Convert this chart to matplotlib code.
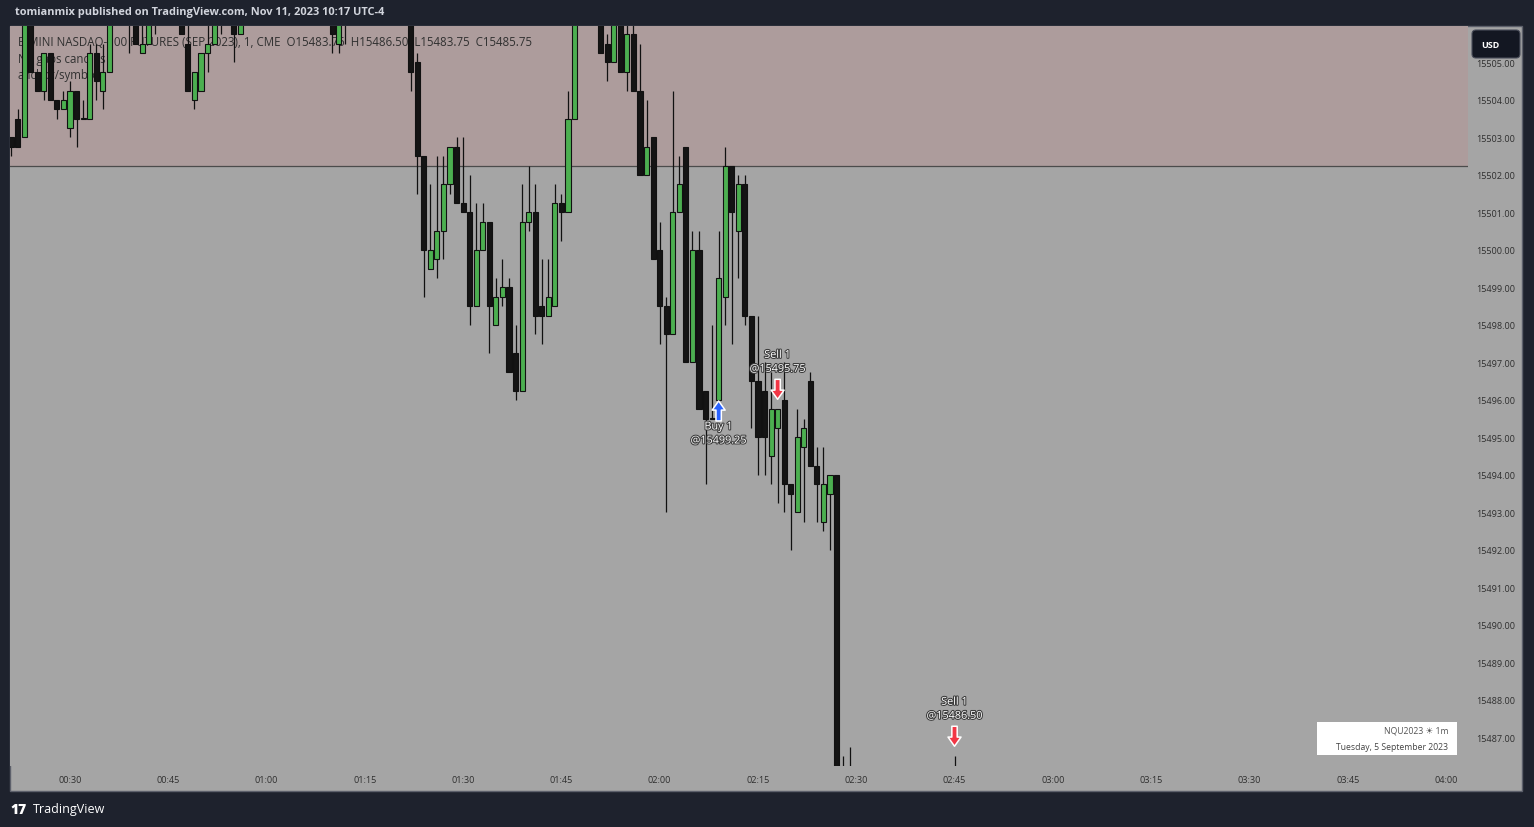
import matplotlib.pyplot as plt
import matplotlib.patheffects as pe
from matplotlib.patches import Rectangle, FancyBboxPatch
from matplotlib.transforms import IdentityTransform

plt.rcParams['font.family'] = ['Open Sans', 'DejaVu Sans']

# one-minute bars, 00:21 .. 02:45 (minutes after midnight)
minutes = list(range(21, 166))
opens = [
    15503.0, 15503.5, 15503.0, 15506.5, 15504.75, 15504.25, 15505.25, 15504.0, 15503.75, 15503.25,
    15504.25, 15503.5, 15503.5, 15505.25, 15504.25, 15504.75, 15506.5, 15507.0, 15506.75, 15506.5,
    15505.25, 15505.5, 15506.25, 15506.5, 15507.0, 15506.75, 15506.5, 15505.5, 15504.0, 15504.25,
    15505.25, 15505.5, 15506.25, 15506.5, 15506.75, 15505.75, 15506.5, 15507.25, 15507.75, 15508.25,
    15508.0, 15507.75, 15507.25, 15507.5, 15508.0, 15507.5, 15507.0, 15507.25, 15506.75, 15507.0,
    15505.5, 15506.5, 15506.75, 15507.25, 15507.0, 15506.75, 15507.0, 15507.5, 15507.25, 15506.75,
    15507.0, 15506.75, 15505.0, 15502.5, 15499.5, 15499.75, 15500.5, 15501.75, 15502.75, 15501.25,
    15501.0, 15498.5, 15500.0, 15500.75, 15498.0, 15498.75, 15499.0, 15497.25, 15496.25, 15500.75,
    15501.0, 15498.5, 15498.25, 15498.5, 15501.25, 15501.0, 15503.5, 15506.5, 15507.25, 15507.0,
    15506.5, 15505.5, 15505.0, 15506.5, 15504.75, 15505.75, 15504.25, 15502.0, 15503.0, 15500.0,
    15498.5, 15497.75, 15501.0, 15502.75, 15497.0, 15500.0, 15496.25, 15495.5, 15496.0, 15498.75,
    15502.25, 15500.5, 15501.75, 15498.25, 15496.5, 15496.25, 15494.5, 15495.25, 15496.0, 15493.75,
    15493.0, 15494.75, 15496.5, 15494.25, 15492.75, 15493.5, 15494.0, 15485.75, 15485.5, 15486.0,
    15485.25, 15485.0, 15484.5, 15484.75, 15484.5, 15484.0, 15484.25, 15484.75, 15484.5, 15484.0,
    15483.75, 15484.0, 15483.75, 15483.5, 15483.75,
]
highs = [
    15503.0, 15503.75, 15506.75, 15506.75, 15504.75, 15505.25, 15505.25, 15504.0, 15504.25, 15504.5,
    15504.25, 15504.0, 15505.5, 15505.5, 15505.5, 15506.5, 15507.25, 15507.5, 15507.0, 15506.75,
    15506.25, 15506.5, 15506.75, 15507.25, 15507.25, 15507.0, 15506.75, 15506.25, 15504.75, 15505.25,
    15506.25, 15506.5, 15506.75, 15507.0, 15507.0, 15506.75, 15507.5, 15508.0, 15508.5, 15508.75,
    15508.5, 15508.0, 15507.75, 15508.25, 15508.25, 15507.75, 15507.5, 15507.5, 15507.25, 15507.25,
    15506.75, 15507.0, 15507.5, 15507.75, 15507.5, 15507.25, 15507.75, 15508.0, 15507.5, 15507.25,
    15507.25, 15507.0, 15505.25, 15502.5, 15501.75, 15502.5, 15502.5, 15502.75, 15503.0, 15503.0,
    15502.0, 15501.25, 15501.25, 15500.75, 15499.25, 15499.75, 15499.25, 15498.0, 15501.75, 15502.25,
    15501.75, 15499.75, 15499.75, 15501.75, 15501.5, 15504.25, 15507.0, 15507.5, 15507.75, 15507.25,
    15506.75, 15505.75, 15506.5, 15506.75, 15506.0, 15506.0, 15505.5, 15504.0, 15503.0, 15500.75,
    15498.75, 15504.25, 15502.5, 15502.75, 15500.5, 15500.5, 15496.25, 15498.0, 15500.5, 15502.75,
    15502.25, 15502.0, 15502.0, 15498.25, 15498.25, 15497.0, 15496.75, 15495.75, 15497.0, 15493.75,
    15495.75, 15495.5, 15496.75, 15494.75, 15494.75, 15494.0, 15494.0, 15486.5, 15486.75, 15486.0,
    15485.75, 15485.5, 15485.0, 15485.25, 15484.75, 15484.5, 15485.0, 15485.25, 15484.75, 15484.5,
    15484.25, 15484.5, 15484.0, 15484.0, 15486.5,
]
lows = [
    15502.5, 15502.75, 15503.0, 15504.75, 15504.25, 15504.0, 15504.0, 15503.5, 15503.75, 15503.0,
    15502.75, 15503.5, 15503.5, 15504.0, 15503.75, 15504.75, 15506.25, 15506.5, 15505.25, 15505.5,
    15505.25, 15505.5, 15505.75, 15506.25, 15506.5, 15506.25, 15505.75, 15504.25, 15503.75, 15504.25,
    15504.75, 15505.5, 15505.75, 15506.25, 15505.0, 15505.75, 15506.25, 15507.0, 15507.5, 15507.75,
    15507.5, 15507.0, 15506.75, 15507.25, 15507.25, 15506.75, 15506.5, 15506.5, 15506.5, 15505.25,
    15505.25, 15505.5, 15506.5, 15506.75, 15506.5, 15506.5, 15506.75, 15507.0, 15506.5, 15506.5,
    15506.5, 15504.25, 15501.5, 15498.75, 15499.5, 15499.25, 15499.75, 15501.5, 15501.25, 15501.0,
    15498.0, 15498.5, 15500.0, 15497.25, 15498.0, 15498.5, 15496.75, 15496.0, 15496.25, 15500.5,
    15497.75, 15497.5, 15498.25, 15498.5, 15500.25, 15501.0, 15503.5, 15506.25, 15506.75, 15506.25,
    15505.25, 15504.5, 15505.0, 15504.75, 15504.25, 15504.25, 15502.0, 15502.0, 15499.75, 15497.5,
    15493.0, 15497.75, 15501.0, 15497.0, 15497.0, 15495.75, 15493.75, 15495.5, 15496.0, 15498.0,
    15497.5, 15499.25, 15498.0, 15495.25, 15494.0, 15494.0, 15493.75, 15493.25, 15493.0, 15492.0,
    15493.0, 15492.75, 15494.25, 15492.75, 15492.5, 15492.0, 15485.5, 15485.0, 15485.25, 15485.0,
    15484.75, 15484.25, 15484.0, 15484.25, 15483.75, 15483.5, 15484.0, 15484.25, 15483.75, 15483.5,
    15483.25, 15483.5, 15483.25, 15483.25, 15483.75,
]
closes = [
    15502.75, 15502.75, 15506.5, 15504.75, 15504.25, 15505.25, 15504.0, 15503.75, 15504.0, 15504.25,
    15503.5, 15503.5, 15505.25, 15504.5, 15504.75, 15506.25, 15507.0, 15506.75, 15506.5, 15505.5,
    15505.5, 15506.25, 15506.5, 15507.0, 15506.75, 15506.5, 15505.75, 15504.25, 15504.75, 15505.25,
    15505.5, 15506.25, 15506.5, 15506.75, 15505.75, 15506.5, 15507.25, 15507.75, 15508.25, 15508.0,
    15507.75, 15507.25, 15507.5, 15508.0, 15507.5, 15507.0, 15507.25, 15506.75, 15507.0, 15505.75,
    15506.5, 15506.75, 15507.25, 15507.0, 15506.75, 15507.0, 15507.5, 15507.25, 15506.75, 15507.0,
    15506.75, 15504.75, 15502.5, 15500.0, 15500.0, 15500.5, 15501.75, 15502.75, 15501.25, 15501.0,
    15498.5, 15500.0, 15500.75, 15498.5, 15498.75, 15499.0, 15496.75, 15496.25, 15500.75, 15501.0,
    15498.25, 15498.25, 15498.75, 15501.25, 15501.0, 15503.5, 15506.5, 15507.25, 15507.0, 15506.5,
    15505.25, 15505.0, 15506.25, 15504.75, 15505.75, 15504.25, 15502.0, 15502.75, 15499.75, 15498.5,
    15497.75, 15501.0, 15501.75, 15497.0, 15500.0, 15495.75, 15495.5, 15495.5, 15499.25, 15502.25,
    15501.0, 15501.75, 15498.25, 15496.5, 15495.0, 15495.0, 15495.75, 15495.75, 15493.75, 15493.5,
    15495.0, 15495.25, 15494.25, 15493.75, 15493.75, 15494.0, 15485.75, 15485.5, 15486.0, 15485.25,
    15485.0, 15484.5, 15484.75, 15484.5, 15484.0, 15484.25, 15484.75, 15484.5, 15484.0, 15483.75,
    15484.0, 15483.75, 15483.5, 15483.75, 15485.75,
]

zone_low = 15502.25
trade_minutes = [129, 138, 165]
trade_sides = ['buy', 'sell', 'sell']
trade_labels = ['Buy 1', 'Sell 1', 'Sell 1']
trade_prices = ['@15499.25', '@15495.75', '@15486.50']

time_ticks = list(range(30, 241, 15))
price_ticks = list(range(15487, 15506))

W, H = 1534, 828
BG = '#1e222d'
PANE = '#a5a5a5'
fig = plt.figure(figsize=(W / 100, H / 100), dpi=100, facecolor=BG)


def fx(px):
    return px / W


def fy(py):
    return 1 - py / H


# grey pane incl. price + time scales (drawn below the axes)
fig.patches.append(Rectangle((fx(10), fy(792)), fx(1512), (792 - 27) / H,
                             transform=fig.transFigure, fc=PANE, ec='#5d606b',
                             lw=1, zorder=-5))

ax = fig.add_axes([fx(10), fy(767), fx(1458), 740 / H])
ax.set_zorder(1)
ax.set_facecolor(PANE)
px_per_min = 6.552
ax.set_xlim(30 - 60 / px_per_min, 30 + 1398 / px_per_min)
ymin, ymax = 15486.24, 15505.97
ax.set_ylim(ymin, ymax)
ppu = 740 / (ymax - ymin)  # pixels per price point

ax.axhspan(zone_low, ymax + 5, color='#ad9c9c', lw=0, zorder=0)
ax.axhline(zone_low, color='#4b4b4b', lw=0.9, zorder=1)

# candles
ax.vlines(minutes, lows, highs, color='#111111', lw=0.9, zorder=3)
bottoms = [min(o, c) for o, c in zip(opens, closes)]
heights = [max(abs(c - o), 0.03) for o, c in zip(opens, closes)]
colors = ['#4caf50' if c >= o else '#141414' for o, c in zip(opens, closes)]
ax.bar(minutes, heights, bottom=bottoms, width=0.78, color=colors,
       edgecolor='#111111', lw=0.8, zorder=4)

for s in ax.spines.values():
    s.set_visible(False)
ax.yaxis.tick_right()
ax.set_yticks(price_ticks)
ax.set_yticklabels([f'{v:.2f}' for v in price_ticks])
ax.set_xticks(time_ticks)
ax.set_xticklabels([f'{m // 60:02d}:{m % 60:02d}' for m in time_ticks])
ax.tick_params(axis='y', length=0, pad=6, labelsize=6.6, labelcolor='#2f2f2f')
ax.tick_params(axis='x', length=0, pad=6.5, labelsize=6.6, labelcolor='#2f2f2f')

# legend lines (behind candles)
legend_lines = ['E-MINI NASDAQ-100 FUTURES (SEP 2023), 1, CME  O15483.75  H15486.50  L15483.75  C15485.75',
                'No gaps candles', 'anchor/symbol']
for i, t in enumerate(legend_lines):
    ax.text(fx(18), fy(42 + 17 * i), t, transform=fig.transFigure, fontsize=8.3,
            color='#303030', va='center', ha='left', zorder=2)

# trade markers
halo = [pe.withStroke(linewidth=1.5, foreground='#3c3c3c')]
for m, side, lab, pr in zip(trade_minutes, trade_sides, trade_labels, trade_prices):
    i = minutes.index(m)
    if side == 'buy':
        tip = lows[i] - 1 / ppu
        tail = tip - 20 / ppu
        t1, t2 = tip - 26 / ppu, tip - 40 / ppu
        col = '#2962ff'
    else:
        tip = highs[i] + 10 / ppu
        tail = tip + 20 / ppu
        t1, t2 = tip + 44 / ppu, tip + 30 / ppu
        col = '#f23645'
    ax.annotate('', xy=(m, tip), xytext=(m, tail),
                arrowprops=dict(arrowstyle='simple,head_length=0.6,head_width=0.85,tail_width=0.35',
                                fc=col, ec='white', lw=1.1, shrinkA=0, shrinkB=0,
                                mutation_scale=11), zorder=6)
    for yy, tt in ((t1, lab), (t2, pr)):
        ax.text(m, yy, tt, ha='center', va='center', fontsize=7.8, color='white',
                path_effects=halo, zorder=6)

# symbol / date box
fig.patches.append(Rectangle((fx(1317), fy(756)), fx(140), 33 / H,
                             transform=fig.transFigure, fc='white', ec='none', zorder=5))
fig.text(fx(1448), fy(731), 'NQU2023 \u2600 1m', ha='right', va='center',
         fontsize=6.2, color='#555555', zorder=6)
fig.text(fx(1448), fy(748), 'Tuesday, 5 September 2023', ha='right', va='center',
         fontsize=6.2, color='#444444', zorder=6)

# currency badge
fig.patches.append(FancyBboxPatch((1472, H - 59), 48, 28,
                                  boxstyle='round,pad=0,rounding_size=4',
                                  transform=IdentityTransform(), fc='#131722',
                                  ec='#4a4e5a', lw=0.8, zorder=5))
fig.text(fx(1490), fy(45), 'USD', ha='center', va='center', fontsize=6.5,
         color='white', fontweight='bold', zorder=6)

# header / footer
fig.text(fx(15), fy(13), 'tomianmix published on TradingView.com, Nov 11, 2023 10:17 UTC-4',
         ha='left', va='center', fontsize=7.9, color='#d1d4dc', fontweight='bold')
fig.text(fx(10), fy(810), '17', ha='left', va='center', fontsize=10,
         color='white', fontweight='heavy')
fig.text(fx(33), fy(810), 'TradingView', ha='left', va='center', fontsize=9,
         color='white')

fig.savefig('out.png', dpi=100, facecolor=BG)
